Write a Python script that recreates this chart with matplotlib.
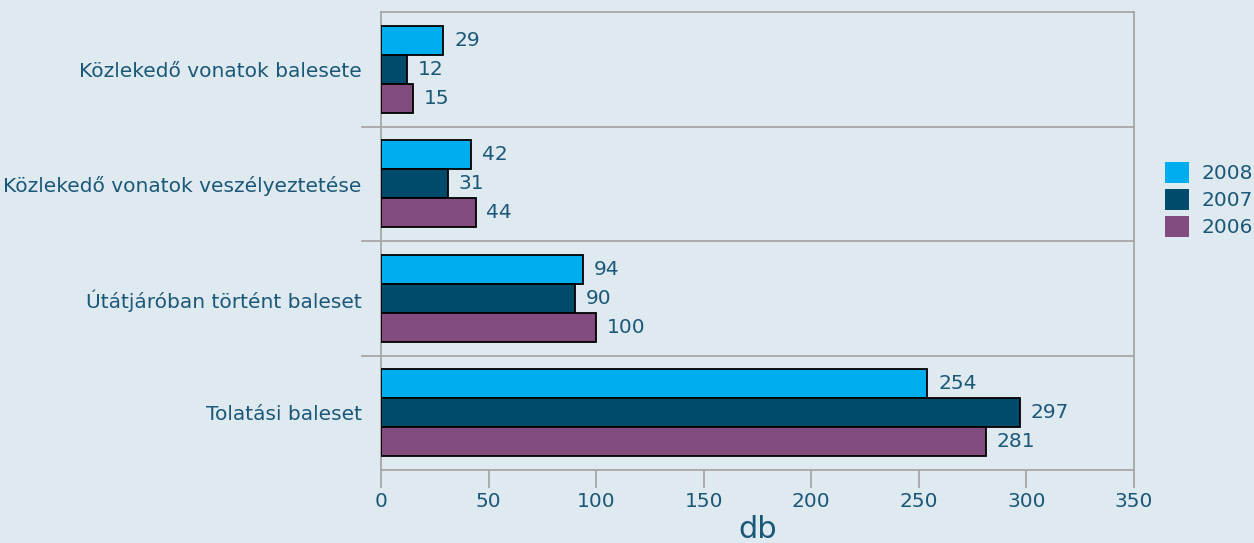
import numpy as np
import matplotlib.pyplot as plt
import matplotlib.transforms as mtransforms
from matplotlib.patches import Patch

categories = ['Közlekedő vonatok balesete', 'Közlekedő vonatok veszélyeztetése',
              'Útátjáróban történt baleset', 'Tolatási baleset']
years = ['2008', '2007', '2006']
v2008 = [29, 42, 94, 254]
v2007 = [12, 31, 90, 297]
v2006 = [15, 44, 100, 281]
series = [v2008, v2007, v2006]
colors = ['#00AEEF', '#004B6B', '#834C7E']

BG = '#DFE9F0'
TXT = '#1B5878'
GRID = '#A6A6A6'
FS = 14.5

fig = plt.figure(figsize=(12.54, 5.43), dpi=100, facecolor=BG)
ax = fig.add_axes([381 / 1254, 1 - 470 / 543, 753 / 1254, 458 / 543])
ax.set_facecolor(BG)

y = np.arange(len(categories))
h = 0.252
for i, (vals, col) in enumerate(zip(series, colors)):
    pos = y + (i - 1) * h
    ax.barh(pos, vals, height=h, color=col, edgecolor='black', linewidth=1.3,
            label=years[i], zorder=3)
    for p, v in zip(pos, vals):
        ax.text(v + 5, p, str(v), va='center', ha='left', color=TXT, fontsize=FS)

ax.set_xlim(0, 350)
ax.set_ylim(3.5, -0.5)
ax.set_yticks(y)
ax.set_yticklabels(categories)
ax.set_xticks(np.arange(0, 351, 50))
ax.tick_params(axis='y', length=0, pad=14, labelsize=FS, labelcolor=TXT)
ax.tick_params(axis='x', length=13, width=1.3, color=GRID, pad=3,
               labelsize=FS, labelcolor=TXT)

for s in ax.spines.values():
    s.set_color(GRID)
    s.set_linewidth(1.3)

# category separators extending past the left spine
trans = mtransforms.blended_transform_factory(ax.transAxes, ax.transData)
for b in [0.5, 1.5, 2.5]:
    ax.plot([-0.025, 1], [b, b], color=GRID, lw=1.3, transform=trans,
            clip_on=False, zorder=1)

ax.set_xlabel('db', fontsize=22, color=TXT, labelpad=3)

handles = [Patch(facecolor=c, edgecolor='none') for c in colors]
leg = fig.legend(handles, years, loc='upper left', bbox_to_anchor=(1165 / 1254, 1 - 162 / 543),
                 frameon=False, fontsize=FS, labelcolor=TXT, handlelength=1.2,
                 handleheight=1.2, handletextpad=0.6, labelspacing=0.3, borderaxespad=0,
                 borderpad=0)

fig.savefig('out.png', dpi=100, facecolor=BG)
